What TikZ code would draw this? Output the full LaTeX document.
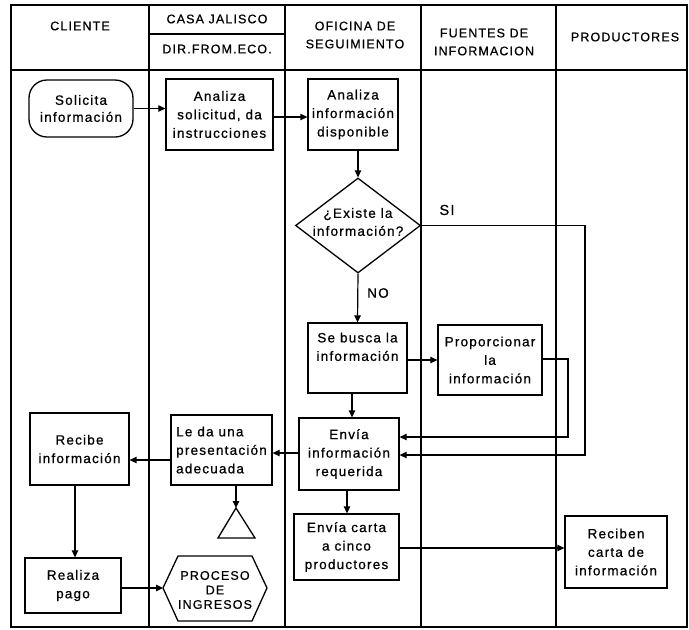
\documentclass[tikz,border=0pt]{standalone}
\usepackage{fontspec}
\setmainfont{Liberation Sans}[LetterSpace=9,FakeBold=0.7]
\usetikzlibrary{arrows.meta,shapes.geometric}
\begin{document}
\begin{tikzpicture}[x=1pt,y=-1pt,
  box/.style={draw, line width=1.3pt, inner sep=0pt, align=center, font=\fontsize{13.5}{18.5}\selectfont},
  hdr/.style={align=center, inner sep=0pt, font=\fontsize{12.5}{18}\selectfont},
  lane/.style={line width=1.4pt},
  conn/.style={line width=1.2pt, -{Triangle[length=7pt,width=6.5pt]}},
  plainline/.style={line width=1.2pt}]
\useasboundingbox (0,0) rectangle (689,630);
% frame and lanes
\draw[lane] (11,5) rectangle (687,627);
\draw[lane] (11,70) -- (687,70);
\draw[lane] (149,5) -- (149,627);
\draw[lane] (285,5) -- (285,627);
\draw[lane] (421,5) -- (421,627);
\draw[lane] (556,5) -- (556,627);
\draw[lane] (149,34) -- (285,34);
% headers
\node[hdr] (hcli) at (80,26) {CLIENTE};
\node[hdr] (hcasa) at (217,19) {CASA JALISCO};
\node[hdr] (hdir) at (217,49) {DIR.FROM.ECO.};
\node[hdr] (hofi) at (355,35) {OFICINA DE\\SEGUIMIENTO};
\node[hdr] (hfue) at (484,42) {FUENTES DE\\INFORMACION};
\node[hdr] (hpro) at (625,37) {PRODUCTORES};
% boxes
\node[box, rounded corners=18pt, minimum width=104pt, minimum height=57pt, font=\fontsize{13.5}{17}\selectfont] (sol) at (81,108.5) {Solicita\\información};
\node[box, minimum width=107pt, minimum height=71pt] (anas) at (219.5,114.5) {Analiza\\solicitud, da\\instrucciones};
\node[box, minimum width=90pt, minimum height=71pt] (anai) at (353,114.5) {Analiza\\información\\disponible};
\node[draw, diamond, line width=1.3pt, minimum width=125pt, minimum height=95pt, inner sep=0pt] (dia) at (358,225.5) {};
\node[box, draw=none, font=\fontsize{13.5}{18}\selectfont] (diat) at (358,222) {¿Existe la\\información?};
\node[box, minimum width=99pt, minimum height=70pt] (busca) at (357.5,358) {Se busca la\\información\\[4pt]};
\node[box, minimum width=104pt, minimum height=70pt] (prop) at (490,360) {Proporcionar\\la\\información};
\node[box, minimum width=100pt, minimum height=72pt] (envi) at (349,454) {Envía\\información\\requerida};
\node[box, minimum width=105pt, minimum height=66pt] (carta) at (346.5,547) {Envía carta\\a cinco\\productores};
\node[box, minimum width=102pt, minimum height=72pt] (reciben) at (616,552) {Reciben\\carta de\\información};
\node[box, minimum width=101pt, minimum height=70pt, align=left] (leda) at (221.5,450) {Le da una\\presentación\\adecuada};
\node[box, minimum width=99pt, minimum height=72pt] (recibe) at (79.5,449) {Recibe\\información};
\node[box, minimum width=96pt, minimum height=55pt] (realiza) at (73,585.5) {Realiza\\pago};
% hexagon
\draw[line width=1.3pt] (163,588) -- (178,556) -- (252,556) -- (267,588) -- (252,621) -- (178,621) -- cycle;
\coordinate (hexL) at (163,588);
\node[hdr, font=\fontsize{12.5}{14.5}\selectfont] (hex) at (215,590) {PROCESO\\DE\\INGRESOS};
% triangle
\draw[line width=1.3pt] (236,508) -- (255,538) -- (218,538) -- cycle;
\coordinate (triA) at (236,508);
% labels
\node[hdr, font=\fontsize{14.5}{18}\selectfont] (si) at (447,210) {SI};
\node[hdr, font=\fontsize{13.5}{18}\selectfont] (no) at (378,293) {NO};
% connectors
\coordinate (c1) at (585,455);
\coordinate (c2) at (568,437);
\draw[conn] (sol.east) -- (sol.east -| anas.west);
\draw[conn] (anas.east |- 0,117) -- (anai.west |- 0,117);
\draw[conn] (anai.south -| dia.north) -- (dia.north);
\draw[conn] (dia.south) -- (busca.north);
\draw[conn] (dia.east) -| (c1) -- (envi.east |- c1);
\draw[conn] (busca.east |- 0,360) -- (prop.west |- 0,360);
\draw[conn] (prop.east |- 0,359) -| (c2) -- (envi.east |- c2);
\draw[conn] (busca.south -| 352,0) -- (envi.north -| 352,0);
\draw[conn] (envi.west |- 0,453) -- (leda.east |- 0,453);
\draw[conn] (leda.west |- 0,460) -- (recibe.east |- 0,460);
\draw[conn] (leda.south -| triA) -- (triA);
\draw[conn] (recibe.south -| 75,0) -- (realiza.north -| 75,0);
\draw[conn] (realiza.east |- hexL) -- (hexL);
\draw[conn] (envi.south -| 347,0) -- (carta.north -| 347,0);
\draw[conn] (carta.east |- 0,548) -- (reciben.west |- 0,548);
\end{tikzpicture}
\end{document}
